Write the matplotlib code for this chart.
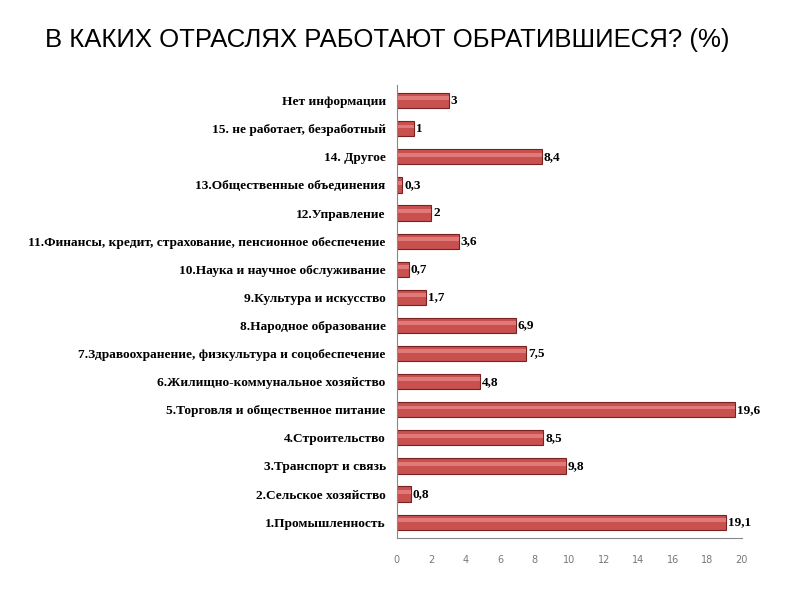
import matplotlib
matplotlib.use("Agg")
import matplotlib.pyplot as plt

# Отрасли (снизу вверх) и доли, %
categories = [
    "1.Промышленность",
    "2.Сельское хозяйство",
    "3.Транспорт и связь",
    "4.Строительство",
    "5.Торговля и общественное питание",
    "6.Жилищно-коммунальное хозяйство",
    "7.Здравоохранение, физкультура и соцобеспечение",
    "8.Народное образование",
    "9.Культура и искусство",
    "10.Наука и научное обслуживание",
    "11.Финансы, кредит, страхование, пенсионное обеспечение",
    "12.Управление",
    "13.Общественные объединения",
    "14. Другое",
    "15. не работает, безработный",
    "Нет информации",
]
values = [19.1, 0.8, 9.8, 8.5, 19.6, 4.8, 7.5, 6.9, 1.7, 0.7, 3.6, 2, 0.3, 8.4, 1, 3]
x_ticks = [0, 2, 4, 6, 8, 10, 12, 14, 16, 18, 20]

fig = plt.figure(figsize=(8, 6), dpi=100)
ax = fig.add_axes([0.496, 0.103, 0.431, 0.755])

pos = list(range(len(values)))
ax.barh(pos, values, height=0.54, color="#C8504E", edgecolor="#7A2222", linewidth=0.8)
# светлый блик по верху цилиндра
ax.barh([p + 0.08 for p in pos], values, height=0.14, color="#E07A78", linewidth=0)

for p, v in zip(pos, values):
    txt = f"{v:g}".replace(".", ",")
    ax.text(v + 0.12, p, txt, va="center", ha="left", fontsize=9.5,
            fontweight="bold", family="Liberation Serif", color="black")

ax.set_xlim(0, 20)
ax.set_ylim(-0.57, 15.55)
ax.set_yticks(pos)
ax.set_yticklabels(categories, family="Liberation Serif", fontweight="bold", fontsize=9.6)
ax.set_xticks(x_ticks)
ax.set_xticklabels([str(t) for t in x_ticks], family="DejaVu Sans",
                   fontsize=7, color="#777777")
ax.tick_params(axis="y", length=0, pad=8)
ax.tick_params(axis="x", length=0, pad=12)

for s in ["top", "right"]:
    ax.spines[s].set_visible(False)
ax.spines["left"].set_color("#888888")
ax.spines["bottom"].set_color("#888888")

fig.text(0.056, 0.933, "В КАКИХ ОТРАСЛЯХ РАБОТАЮТ ОБРАТИВШИЕСЯ? (%)",
         family="Liberation Sans", fontsize=18.5, va="center", ha="left")

fig.savefig("out.png", dpi=100)
